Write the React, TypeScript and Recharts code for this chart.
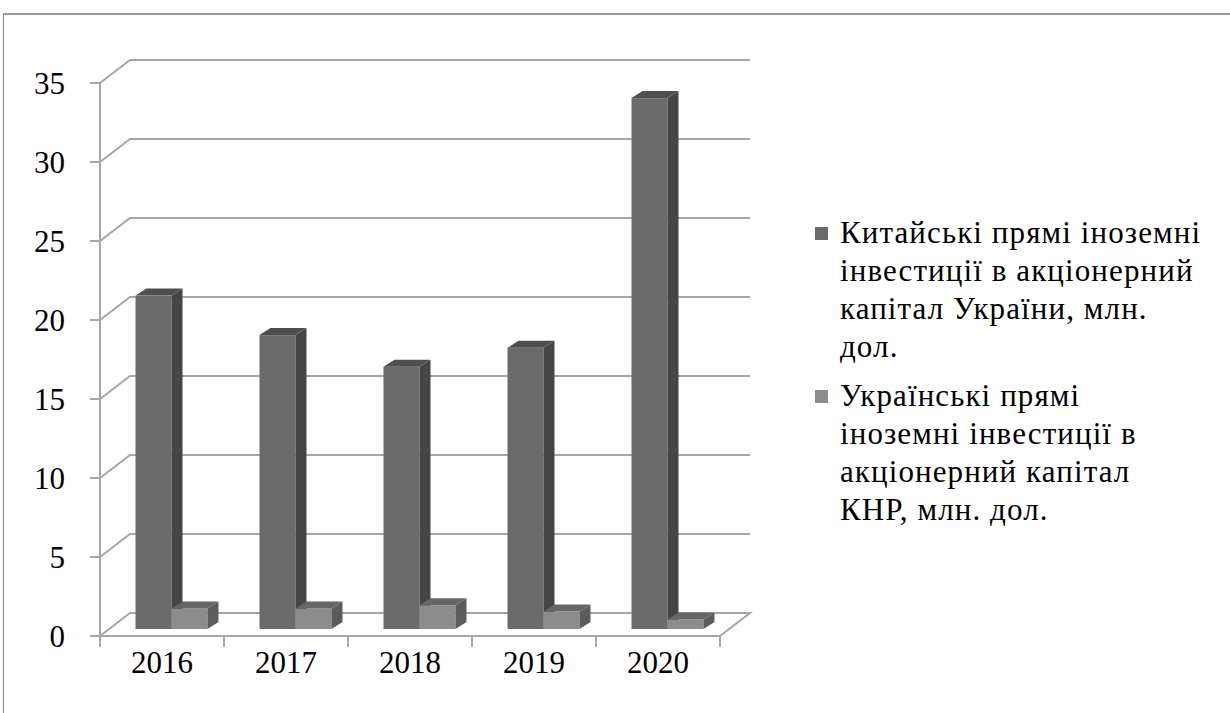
import React from 'react';
import { BarChart, Bar, XAxis, YAxis, CartesianGrid } from 'recharts';

// Значення зчитані з діаграми (млн. дол.)
const years = ['2016', '2017', '2018', '2019', '2020'];
const chinaFdi = [21.1, 18.6, 16.6, 17.8, 33.6];
const ukraineFdi = [1.3, 1.3, 1.5, 1.1, 0.6];
const yTicks = [0, 5, 10, 15, 20, 25, 30, 35];

const seriesNames = [
  'Китайські прямі іноземні інвестиції в акціонерний капітал України, млн. дол.',
  'Українські прямі іноземні інвестиції в акціонерний капітал КНР, млн. дол.',
];
const legendLines = [
  ['Китайські прямі іноземні', 'інвестиції в акціонерний', 'капітал України, млн.', 'дол.'],
  ['Українські прямі', 'іноземні інвестиції в', 'акціонерний капітал', 'КНР, млн. дол.'],
];

const data = years.map((year, i) => ({ year, china: chinaFdi[i], ukraine: ukraineFdi[i] }));

// геометрія "3D"
const TOP = 83;
const PLOT_H = 553;
const WALL_DX = 30;
const WALL_DY = -23;
const BAR_SHIFT_X = 9.5;
const BAR_SHIFT_Y = -7;
const DEPTH_X = 11;
const DEPTH_Y = -7;

const FONT = '"Liberation Serif", "Times New Roman", serif';
const GRID = '#a6a6a6';

const darkColors = { front: '#6b6b6b', side: '#454545', top: '#4f4f4f' };
const lightColors = { front: '#8c8c8c', side: '#5c5c5c', top: '#666666' };

function Bar3D(props: any) {
  const { x, y, width, height, colors } = props;
  if (width == null || height == null) return null;
  const fx = x + BAR_SHIFT_X;
  const fy = y + BAR_SHIFT_Y;
  const w = width;
  const h = height;
  return (
    <g>
      <rect x={fx} y={fy} width={w} height={h} fill={colors.front} />
      <polygon
        points={`${fx + w},${fy} ${fx + w + DEPTH_X},${fy + DEPTH_Y} ${fx + w + DEPTH_X},${fy + h + DEPTH_Y} ${fx + w},${fy + h}`}
        fill={colors.side}
      />
      <polygon
        points={`${fx},${fy} ${fx + DEPTH_X},${fy + DEPTH_Y} ${fx + w + DEPTH_X},${fy + DEPTH_Y} ${fx + w},${fy}`}
        fill={colors.top}
      />
    </g>
  );
}

function GridLine(props: any) {
  const { x1, y1, x2 } = props;
  const isFloor = Math.abs(y1 - (TOP + PLOT_H)) < 1;
  let d = `M${x1},${y1} L${x1 + WALL_DX},${y1 + WALL_DY} L${x2 + WALL_DX},${y1 + WALL_DY}`;
  if (isFloor) d += ` L${x2},${y1}`;
  return <path key={props.key ?? `g-${props.index}`} d={d} fill="none" stroke={GRID} strokeWidth={2} />;
}

function YTick(props: any) {
  const { x, y, payload } = props;
  return (
    <text x={x - 23} y={y} dy="0.35em" textAnchor="end" fontFamily={FONT} fontSize={31} fill="#000">
      {payload.value}
    </text>
  );
}

function XTick(props: any) {
  const { x, y, payload, index } = props;
  const half = payload.offset ?? 62;
  return (
    <g>
      <line x1={x - half} y1={y - 8} x2={x - half} y2={y + 3} stroke={GRID} strokeWidth={2} />
      {index === years.length - 1 && (
        <line x1={x + half} y1={y - 8} x2={x + half} y2={y + 3} stroke={GRID} strokeWidth={2} />
      )}
      <text x={x} y={y + 29} textAnchor="middle" fontFamily={FONT} fontSize={31} fill="#000">
        {payload.value}
      </text>
    </g>
  );
}

export default function App() {
  return (
    <div style={{ position: 'absolute', left: 0, top: 0, width: 1230, height: 713, background: '#fff', overflow: 'hidden' }}>
      <div
        style={{
          position: 'absolute',
          left: 3,
          top: 13,
          width: 1240,
          height: 720,
          borderTop: '2px solid #9a9a9a',
          borderLeft: '1px solid #8a8a8a',
        }}
      />
      <div style={{ position: 'absolute', left: 0, top: 0 }}>
        <BarChart
          width={1230}
          height={713}
          data={data}
          margin={{ top: TOP, right: 510, bottom: 17, left: 40 }}
          barCategoryGap={26}
          barGap={0}
        >
          <CartesianGrid vertical={false} horizontal={(p: any) => <GridLine {...p} />} />
          <XAxis
            dataKey="year"
            height={60}
            axisLine={{ stroke: GRID, strokeWidth: 2 }}
            tickLine={false}
            tick={<XTick />}
            interval={0}
          />
          <YAxis
            width={60}
            domain={[0, 35]}
            ticks={yTicks}
            interval={0}
            axisLine={{ stroke: GRID, strokeWidth: 2 }}
            tickLine={{ stroke: GRID, strokeWidth: 2 }}
            tickSize={10}
            tick={<YTick />}
          />
          <Bar
            dataKey="china"
            name={seriesNames[0]}
            fill={darkColors.front}
            isAnimationActive={false}
            shape={(p: any) => <Bar3D {...p} colors={darkColors} />}
          />
          <Bar
            dataKey="ukraine"
            name={seriesNames[1]}
            fill={lightColors.front}
            isAnimationActive={false}
            shape={(p: any) => <Bar3D {...p} colors={lightColors} />}
          />
        </BarChart>
      </div>
      <div
        style={{
          position: 'absolute',
          left: 815,
          top: 214,
          fontFamily: FONT,
          fontSize: 31,
          letterSpacing: '1.1px',
          lineHeight: '38px',
          color: '#000',
        }}
      >
        {legendLines.map((lines, i) => (
          <div key={i} style={{ position: 'relative', paddingLeft: 25, marginBottom: 11 }}>
            <span
              style={{
                position: 'absolute',
                left: 0,
                top: 13,
                width: 13,
                height: 13,
                background: i === 0 ? darkColors.front : lightColors.front,
              }}
            />
            {lines.map((t, j) => (
              <div key={j} style={{ whiteSpace: 'nowrap' }}>{t}</div>
            ))}
          </div>
        ))}
      </div>
    </div>
  );
}
